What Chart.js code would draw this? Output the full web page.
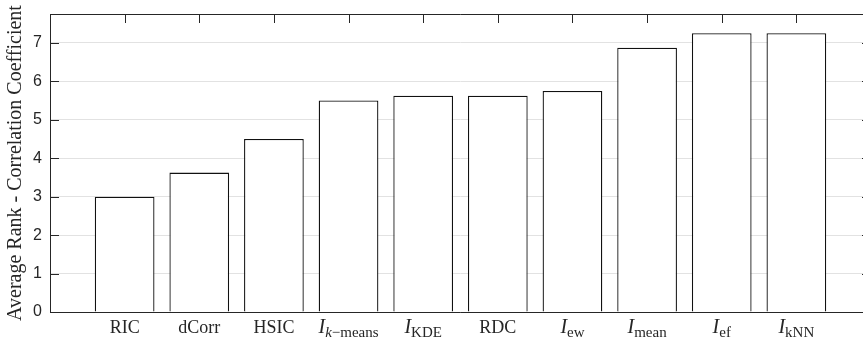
<!DOCTYPE html>
<html>
<head>
<meta charset="utf-8">
<script src="https://cdn.jsdelivr.net/npm/chart.js@4"></script>
<style>
  html, body { margin: 0; padding: 0; background: #fff; overflow: hidden; }
  #wrap { width: 880px; height: 343px; position: relative; }
</style>
</head>
<body>
<div id="wrap"><canvas id="rankChart" width="880" height="343"></canvas></div>
<script>
// labels written TeX-like: I_{sub} gets an italic I and a subscript
const categories = ["RIC", "dCorr", "HSIC", "I_{k−means}", "I_{KDE}", "RDC", "I_{ew}", "I_{mean}", "I_{ef}", "I_{kNN}"];
const positions = [1, 2, 3, 4, 5, 6, 7, 8, 9, 10];
const averageRank = [3.0, 3.625, 4.5, 5.5, 5.625, 5.625, 5.75, 6.875, 7.25, 7.25];
const yTicks = [0, 1, 2, 3, 4, 5, 6, 7];

const SERIF = "'Liberation Serif', 'Times New Roman', serif";
const SANS = "'Liberation Sans', Arial, sans-serif";
const AXIS_COLOR = "#262626";

function parseLabel(label) {
  const m = label.match(/^([A-Za-z])_\{(.*)\}$/);
  if (!m) return [{ text: label, italic: false, sub: false }];

  const runs = [{ text: m[1], italic: true, sub: false }];
  const lead = m[2].match(/^([a-z])(−.*)$/);
  if (lead) {
    runs.push({ text: lead[1], italic: true, sub: true });
    runs.push({ text: lead[2], italic: false, sub: true });
  } else {
    runs.push({ text: m[2], italic: false, sub: true });
  }
  return runs;
}

function runFont(run) {
  if (!run.sub && run.italic) return `italic 20px ${SERIF}`;
  if (run.sub && run.italic) return `italic 15px ${SERIF}`;
  if (run.sub) return `15px ${SERIF}`;
  return `18px ${SERIF}`;
}

const frameAndLabels = {
  id: "frameAndLabels",
  afterDatasetsDraw(chart) {
    const { ctx, chartArea, scales } = chart;
    const { left, right, top, bottom } = chartArea;
    const tick = 9;

    ctx.save();
    ctx.strokeStyle = AXIS_COLOR;
    ctx.lineWidth = 1;
    ctx.beginPath();
    // box: the right side lies beyond the window, only its ticks peek in
    ctx.moveTo(left + 0.5, top + 0.5);
    ctx.lineTo(right, top + 0.5);
    ctx.moveTo(left + 0.5, top);
    ctx.lineTo(left + 0.5, bottom + 0.5);
    ctx.lineTo(right, bottom + 0.5);

    yTicks.forEach((v) => {
      const y = Math.round(scales.y.getPixelForValue(v)) + 0.5;
      ctx.moveTo(left, y);
      ctx.lineTo(left + tick, y);
      ctx.moveTo(right, y);
      ctx.lineTo(right - tick, y);
    });

    positions.forEach((p) => {
      const x = Math.round(scales.x.getPixelForValue(p)) + 0.5;
      ctx.moveTo(x, top);
      ctx.lineTo(x, top + tick);
    });
    ctx.stroke();

    // category labels with subscripts
    ctx.fillStyle = AXIS_COLOR;
    ctx.textBaseline = "alphabetic";
    ctx.textAlign = "left";
    categories.forEach((label, i) => {
      const runs = parseLabel(label);
      let total = 0;
      runs.forEach((run) => {
        ctx.font = runFont(run);
        run.width = ctx.measureText(run.text).width;
        total += run.width;
      });
      let x = scales.x.getPixelForValue(positions[i]) - total / 2;
      runs.forEach((run) => {
        ctx.font = runFont(run);
        ctx.fillText(run.text, x, run.sub ? bottom + 25 : bottom + 21);
        x += run.width;
      });
    });
    ctx.restore();
  }
};

new Chart(document.getElementById("rankChart"), {
  type: "bar",
  data: {
    datasets: [
      {
        data: positions.map((p, i) => ({ x: p, y: averageRank[i] })),
        backgroundColor: "#ffffff",
        borderColor: "#111111",
        borderWidth: 1.3,
        barPercentage: 0.8,
        categoryPercentage: 1.0
      }
    ]
  },
  options: {
    responsive: false,
    maintainAspectRatio: false,
    animation: false,
    layout: { padding: { top: 14, right: 9, left: 0, bottom: 0 } },
    plugins: {
      legend: { display: false },
      tooltip: { enabled: false }
    },
    scales: {
      x: {
        type: "linear",
        offset: false,
        min: 0,
        max: 11,
        grid: { display: false },
        border: { display: false },
        ticks: { display: false },
        afterFit(scale) {
          scale.height = 31;
          scale.paddingLeft = 0;
          scale.paddingRight = 0;
        }
      },
      y: {
        min: 0,
        max: 7.75,
        afterBuildTicks(scale) { scale.ticks = yTicks.map((v) => ({ value: v })); },
        afterFit(scale) {
          scale.width = 50;
          scale.paddingTop = 0;
          scale.paddingBottom = 0;
        },
        grid: { color: "#e2e2e2", drawTicks: false, lineWidth: 1 },
        border: { display: false },
        ticks: {
          padding: 8,
          color: AXIS_COLOR,
          font: { family: SANS, size: 16 }
        },
        title: {
          display: true,
          text: "Average Rank - Correlation Coefficient",
          color: AXIS_COLOR,
          font: { family: SERIF, size: 20 },
          padding: { top: 4, bottom: 0 }
        }
      }
    }
  },
  plugins: [frameAndLabels]
});
</script>
</body>
</html>
